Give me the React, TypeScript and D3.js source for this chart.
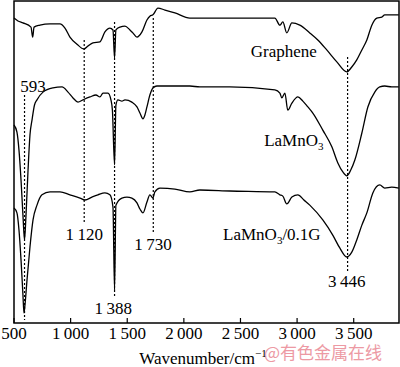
import { useEffect, useRef } from "react";
import * as d3 from "d3";

// FTIR spectra: [wavenumber cm-1, transmittance a.u.]
const graphene: [number, number][] = [
  [500, 94.7], [535, 93.8], [579, 93.2], [650, 91.9], [665, 88.8], [677, 91.9],
  [729, 92.5], [818, 92.9], [906, 92.9], [950, 91.6], [994, 88.8], [1056, 86.6],
  [1118, 85.1], [1153, 86.0], [1197, 87.0], [1259, 87.3], [1303, 90.4], [1347, 91.6],
  [1374, 91.0], [1388, 82.3], [1400, 91.0], [1436, 91.9], [1480, 92.2], [1524, 91.0],
  [1550, 90.1], [1586, 88.8], [1630, 90.4], [1674, 94.1], [1700, 95.3], [1727, 95.7],
  [1771, 97.8], [1833, 97.2], [1921, 96.3], [2053, 94.7], [2406, 94.7], [2804, 94.7],
  [2848, 92.5], [2874, 93.5], [2909, 90.1], [2954, 93.2], [3024, 92.5], [3112, 90.1],
  [3183, 87.9], [3262, 84.8], [3351, 81.1], [3439, 78.0], [3483, 79.5], [3527, 81.7],
  [3572, 84.8], [3616, 87.9], [3660, 92.5], [3704, 94.7], [3748, 95.0], [3774, 95.7],
  [3836, 95.7], [3898, 95.7],
];

const lamno3: [number, number][] = [
  [500, 61.5], [526, 59.3], [544, 53.7], [562, 44.4], [579, 33.5], [593, 25.8],
  [606, 33.5], [624, 47.5], [641, 58.4], [659, 63.0], [681, 67.7], [703, 69.3],
  [756, 71.7], [844, 73.0], [924, 73.3], [977, 71.7], [1021, 69.9], [1065, 68.6],
  [1109, 69.3], [1171, 70.2], [1224, 70.8], [1259, 70.2], [1286, 71.4], [1330, 71.4],
  [1356, 69.3], [1369, 66.1], [1388, 49.1], [1400, 67.7], [1418, 69.3], [1453, 68.9],
  [1480, 69.3], [1541, 68.6], [1586, 67.1], [1612, 65.2], [1639, 63.4], [1656, 64.6],
  [1674, 67.1], [1700, 70.8], [1727, 73.0], [1762, 73.6], [1921, 73.6], [2053, 73.6],
  [2142, 73.3], [2406, 73.3], [2804, 72.4], [2848, 71.4], [2865, 69.9], [2892, 71.4],
  [2918, 66.1], [2954, 68.3], [3007, 70.2], [3051, 68.9], [3095, 67.1], [3139, 65.2],
  [3227, 59.9], [3307, 54.7], [3360, 49.7], [3404, 46.9], [3439, 45.7], [3474, 47.5],
  [3510, 50.6], [3572, 59.0], [3625, 67.1], [3686, 71.7], [3730, 73.3], [3774, 73.6],
  [3836, 73.3], [3898, 73.3],
];

const lamno3G: [number, number][] = [
  [500, 35.7], [526, 34.2], [544, 28.9], [562, 19.6], [579, 8.7], [588, 3.1],
  [597, 5.6], [615, 13.4], [641, 23.6], [668, 32.0], [703, 36.6], [747, 39.8],
  [818, 40.7], [906, 40.7], [994, 39.8], [1083, 38.8], [1127, 38.2], [1188, 39.1],
  [1241, 39.8], [1303, 40.4], [1347, 39.8], [1374, 36.0], [1388, 10.2], [1400, 36.6],
  [1453, 38.8], [1497, 39.1], [1541, 38.8], [1586, 37.3], [1612, 35.4], [1639, 34.2],
  [1674, 37.6], [1700, 39.8], [1727, 38.8], [1744, 40.7], [1789, 41.9], [1921, 41.6],
  [2053, 40.7], [2142, 41.3], [2406, 41.0], [2804, 40.7], [2848, 39.8], [2874, 39.4],
  [2909, 37.0], [2954, 39.1], [3007, 39.8], [3060, 38.2], [3112, 36.6], [3227, 32.0],
  [3315, 27.3], [3377, 23.3], [3439, 20.5], [3483, 22.0], [3527, 25.8], [3572, 30.4],
  [3616, 34.2], [3669, 40.4], [3730, 42.9], [3774, 41.9], [3836, 42.2], [3898, 41.9],
];

const xTicks = [500, 1000, 1500, 2000, 2500, 3000, 3500];

// dotted guide lines: wavenumber, top, bottom
const guides: [number, number, number][] = [
  [593, 70.8, 0.9],
  [1120, 87.9, 31.4],
  [1388, 93.5, 8.1],
  [1730, 94.7, 28.0],
  [3446, 82.6, 15.8],
];

// peak labels: text, x, y (baseline)
const peakLabels: [string, number, number][] = [
  ["593", 668, 71.7],
  ["1\u2009120", 1120, 25.8],
  ["1\u2009388", 1376, 2.8],
  ["1\u2009730", 1727, 22.7],
  ["3\u2009446", 3439, 11.2],
];

// series labels: main text, subscript, rest, x, y
const seriesLabels: [string, string, string, number, number][] = [
  ["Graphene", "", "", 2883, 82.6],
  ["LaMnO", "3", "", 2971, 55.0],
  ["LaMnO", "3", "/0.1G", 2777, 25.8],
];

const fmtTick = (v: number) =>
  v >= 1000 ? `${Math.floor(v / 1000)}\u2009${String(v % 1000).padStart(3, "0")}` : `${v}`;

export default function App() {
  const ref = useRef<SVGSVGElement | null>(null);

  useEffect(() => {
    if (!ref.current) return;
    const W = 400;
    const H = 367;
    const margin = { top: 1, right: 1, bottom: 44, left: 14 };
    const innerW = W - margin.left - margin.right;
    const innerH = H - margin.top - margin.bottom;

    const root = d3.select(ref.current);
    root.selectAll("*").remove();
    root.attr("width", W).attr("height", H);

    const g = root
      .append("g")
      .attr("transform", `translate(${margin.left},${margin.top})`);

    const x = d3.scaleLinear().domain([500, 3900]).range([0, innerW]);
    const y = d3.scaleLinear().domain([0, 100]).range([innerH, 0]);

    const font = "'Liberation Serif', 'Times New Roman', serif";

    // dotted guides
    g.selectAll(".guide")
      .data(guides)
      .join("line")
      .attr("x1", (d) => x(d[0]))
      .attr("x2", (d) => x(d[0]))
      .attr("y1", (d) => y(d[1]))
      .attr("y2", (d) => y(d[2]))
      .attr("stroke", "#000")
      .attr("stroke-width", 1.2)
      .attr("stroke-dasharray", "2,2");

    // spectra
    const line = d3
      .line<[number, number]>()
      .x((d) => x(d[0]))
      .y((d) => y(d[1]))
      .curve(d3.curveMonotoneX);

    [graphene, lamno3, lamno3G].forEach((s) => {
      g.append("path")
        .attr("d", line(s))
        .attr("fill", "none")
        .attr("stroke", "#000")
        .attr("stroke-width", 1.3);
    });

    // frame
    g.append("rect")
      .attr("x", 0)
      .attr("y", 0)
      .attr("width", innerW)
      .attr("height", innerH)
      .attr("fill", "none")
      .attr("stroke", "#000")
      .attr("stroke-width", 1.5);

    // x ticks (pointing inward)
    g.selectAll(".tick")
      .data(xTicks)
      .join("line")
      .attr("x1", (d) => x(d))
      .attr("x2", (d) => x(d))
      .attr("y1", innerH)
      .attr("y2", innerH - 5)
      .attr("stroke", "#000")
      .attr("stroke-width", 1.2);

    g.selectAll(".tickLabel")
      .data(xTicks)
      .join("text")
      .attr("x", (d) => x(d))
      .attr("y", innerH + 16)
      .attr("text-anchor", "middle")
      .attr("font-family", font)
      .attr("font-size", 17)
      .text((d) => fmtTick(d));

    // peak labels
    g.selectAll(".peak")
      .data(peakLabels)
      .join("text")
      .attr("x", (d) => x(d[1]))
      .attr("y", (d) => y(d[2]))
      .attr("text-anchor", "middle")
      .attr("font-family", font)
      .attr("font-size", 17)
      .text((d) => d[0]);

    // series labels
    seriesLabels.forEach(([main, sub, rest, wx, wy]) => {
      const t = g
        .append("text")
        .attr("x", x(wx))
        .attr("y", y(wy))
        .attr("text-anchor", "middle")
        .attr("font-family", font)
        .attr("font-size", 17);
      t.append("tspan").text(main);
      if (sub) {
        t.append("tspan").attr("font-size", 11).attr("dy", 4).text(sub);
        t.append("tspan").attr("dy", -4).text(rest);
      }
    });

    // axis title
    const title = root
      .append("text")
      .attr("x", 203)
      .attr("y", 364)
      .attr("text-anchor", "middle")
      .attr("font-family", font)
      .attr("font-size", 17);
    title.append("tspan").text("Wavenumber/cm");
    title.append("tspan").attr("font-size", 11).attr("dy", -7).text("\u22121");

    // watermark
    root
      .append("text")
      .attr("x", 264)
      .attr("y", 359)
      .attr("font-family", "'Noto Sans CJK SC', sans-serif")
      .attr("font-size", 17)
      .attr("fill", "#ea8894")
      .attr("opacity", 0.85)
      .text("@有色金属在线");
  }, []);

  return (
    <svg
      ref={ref}
      width={400}
      height={367}
      style={{ position: "absolute", left: 0, top: 0, background: "#fff" }}
    />
  );
}
